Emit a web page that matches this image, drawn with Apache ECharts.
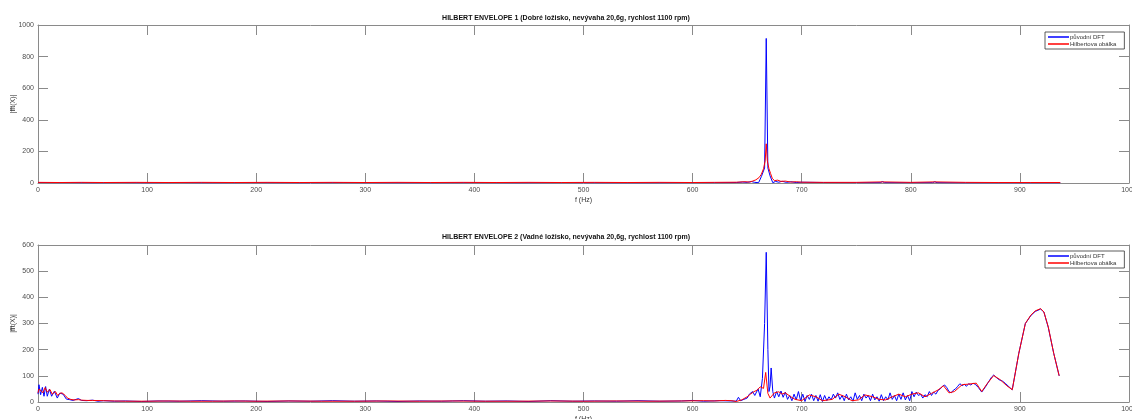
<!DOCTYPE html>
<html>
<head>
<meta charset="utf-8">
<script src="https://cdn.jsdelivr.net/npm/echarts@6/dist/echarts.min.js"></script>
<style>
html, body { margin: 0; padding: 0; background: #fff; }
#c { width: 1132px; height: 419px; }
</style>
</head>
<body>
<div id="c"></div>
<script>
// popisky
var titles = [
    'HILBERT ENVELOPE 1 (Dobré ložisko, nevývaha 20,6g, rychlost 1100 rpm)',
    'HILBERT ENVELOPE 2 (Vadné ložisko, nevývaha 20,6g, rychlost 1100 rpm)'
];
var names = ['původní DFT', 'Hilbertova obálka'];
var xName = 'f (Hz)';
var yName = '|fft(X)|';

// graf 1 - [f, |fft|]
var dft1 = [[0,3],[15,2],[30,2],[50,1],[75,2],[100,1],[130,2],[160,1],[200,2],[240,1],[280,2],[320,1],[360,1],[400,2],[440,1],[480,2],[520,1],[560,1],[600,2],[620,2],[640,3],[646,6],[650,4],[654,9],[657,4],[660.5,2],[663,40],[666,95],[667.5,915],[669,95],[671,45],[673.5,2],[676,10],[679,5],[682,11],[686,4],[690,8],[695,3],[700,5],[720,3],[750,2],[772,2],[774,9],[776,2],[800,2],[820,2],[822,8],[824,2],[850,1],[880,1],[910,1],[937,1]];
var env1 = [[0,4],[20,3],[40,4],[60,3],[90,4],[120,3],[150,4],[180,3],[210,4],[240,3],[270,4],[300,3],[330,4],[360,3],[390,4],[420,3],[450,4],[480,3],[510,4],[540,3],[570,4],[600,3],[620,4],[640,5],[648,8],[652,6],[655,12],[658,20],[661,35],[663,55],[665,90],[666.5,140],[667.5,248],[668.5,140],[670,90],[671.5,60],[673,30],[675,15],[678,18],[681,10],[685,12],[690,6],[695,8],[700,5],[720,4],[750,4],[774,7],[800,4],[822,7],[850,4],[880,3],[910,3],[937,3]];

// graf 2
var dft2 = [[0,30],[0.9,66],[2.4,28],[4,56],[5.5,22],[7,59],[8.5,22],[10.4,49],[12.5,22],[15,41],[17.7,15],[20,34],[23,30],[26,11],[29,9],[32,6],[37,13],[40,6],[44.5,5],[50,7],[55,3],[60,5],[70,3],[80,4],[95,2],[110,4],[130,3],[150,5],[170,3],[190,4],[210,2],[230,4],[250,3],[270,5],[290,3],[310,4],[330,2],[350,4],[370,3],[390,5],[410,3],[430,4],[450,2],[470,5],[490,3],[510,4],[530,3],[550,5],[570,3],[590,4],[600,6],[610,3],[625,5],[635,4],[640,3],[642,18],[644,5],[647,10],[650,15],[652,30],[655,40],[657,25],[660,50],[662,20],[664,90],[666,300],[667.5,572],[669,200],[670,40],[671,60],[672,130],[673.5,40],[675,15],[677,40],[679,20],[681,42],[683,18],[685,38],[687,10],[689,25],[691,5],[693,30],[695,8],[697,40],[699,5],[701,30],[703,2],[705,25],[707,10],[709,30],[711,5],[713,25],[715,3],[717,28],[719,2],[721,25],[723,5],[725,20],[727,8],[729,30],[731,15],[733,35],[735,10],[737,25],[739,5],[741,30],[743,8],[745,20],[747,3],[749,35],[751,10],[753,25],[755,5],[757,30],[759,15],[761,25],[763,5],[765,30],[767,8],[769,20],[771,3],[773,28],[775,5],[777,20],[779,8],[781,35],[783,10],[785,25],[787,5],[789,30],[791,10],[793,35],[795,8],[797,25],[799,5],[801,40],[803,20],[805,38],[807,25],[809,30],[811,15],[813,28],[815,20],[817,40],[819,25],[821,38],[823,30],[825,45],[827,50],[829,60],[831,65],[833,55],[835,40],[837,35],[839,45],[841,50],[843,60],[845,70],[847,62],[849,68],[851,60],[853,70],[855,65],[857,72],[859,68],[862,55],[865,38],[868,55],[871,75],[874,95],[876,103],[878,95],[881,85],[884,80],[887,70],[890,58],[893,47],[899,186],[905,300],[910,330],[914,346],[919,355],[922,344],[926,285],[931,186],[936,100]];
var env2 = [[0,35],[1,50],[2.5,45],[4.5,35],[6.5,55],[8.5,38],[11,48],[13,30],[16,40],[18,25],[20,33],[22,35],[25,25],[27,15],[30,10],[33,8],[37,9],[40,7],[45,6],[50,6],[60,5],[70,4],[80,3],[100,3],[120,4],[140,3],[160,3],[180,4],[200,3],[230,4],[260,3],[290,3],[320,4],[350,3],[380,4],[410,3],[440,3],[470,4],[500,3],[530,4],[560,3],[590,4],[610,5],[620,4],[630,6],[636,5],[640,2],[645,8],[650,20],[653,30],[656,39],[659,45],[662,58],[665,52],[667,113],[669,33],[671,15],[672,10],[675,35],[679,39],[682,30],[685,35],[690,20],[694,10],[700,5],[707,27],[713,20],[719,5],[728,10],[734,30],[740,20],[746,5],[752,8],[758,27],[765,20],[771,10],[777,8],[783,20],[789,30],[795,20],[801,30],[807,35],[813,20],[819,33],[825,46],[830,62],[835,35],[840,40],[847,66],[852,68],[856,70],[860,72],[865,40],[870,70],[876,101],[882,85],[888,62],[893,47],[899,186],[905,300],[910,332],[914,348],[919,357],[922,344],[926,287],[931,186],[936,100]];

var font = 'Liberation Sans, Arial, sans-serif';
var boxColor = '#8a8a8a';
var labelColor = '#4d4d4d';

function plain(v) { return String(v); }

function xAxis(grid, pos, main) {
    return {
        type: 'value', gridIndex: grid, position: pos,
        min: 0, max: 1000, interval: 100,
        name: main ? xName : '', nameLocation: 'middle', nameGap: 14,
        nameTextStyle: { fontSize: 7, color: '#333', fontFamily: font },
        axisLine: { show: true, onZero: false, lineStyle: { color: boxColor, width: 1 } },
        axisTick: { show: true, inside: true, length: 10, lineStyle: { color: boxColor } },
        axisLabel: { show: main, fontSize: 7, color: labelColor, margin: 4, fontFamily: font, formatter: plain },
        splitLine: { show: false }
    };
}
function yAxis(grid, pos, main, max, step) {
    return {
        type: 'value', gridIndex: grid, position: pos,
        min: 0, max: max, interval: step,
        name: main ? yName : '', nameLocation: 'middle', nameGap: 21, nameMoveOverlap: false,
        nameTextStyle: { fontSize: 7, color: '#333', fontFamily: font },
        axisLine: { show: true, onZero: false, lineStyle: { color: boxColor, width: 1 } },
        axisTick: { show: true, inside: true, length: 10, lineStyle: { color: boxColor } },
        axisLabel: { show: main, fontSize: 7, color: labelColor, margin: 4, fontFamily: font, formatter: plain },
        splitLine: { show: false }
    };
}
function legend(top) {
    return {
        data: names, orient: 'vertical', left: 1045, top: top,
        icon: 'rect', itemWidth: 21, itemHeight: 1.5, itemGap: 1,
        padding: [2, 8, 2, 3], backgroundColor: '#fff',
        borderColor: '#333', borderWidth: 0.8, borderRadius: 0,
        textStyle: { fontSize: 6, color: '#333', fontFamily: font, padding: [0, 0, 0, -4] }
    };
}
function line(name, data, color, xi) {
    return {
        name: name, type: 'line', data: data, xAxisIndex: xi, yAxisIndex: xi,
        symbol: 'none', showSymbol: false, animation: false,
        lineStyle: { width: 1, color: color }, itemStyle: { color: color }
    };
}
function title(text, top) {
    return { text: text, left: 'center', top: top, padding: 0,
        textStyle: { fontSize: 7, fontWeight: 'bold', color: '#111', fontFamily: font } };
}

var myChart = echarts.init(document.getElementById('c'));
var option = {
    backgroundColor: '#fff',
    animation: false,
    title: [title(titles[0], 15), title(titles[1], 234)],
    legend: [legend(32), legend(251)],
    grid: [
        { left: 38, top: 25, width: 1091, height: 158, outerBoundsMode: 'none', containLabel: false },
        { left: 38, top: 245, width: 1091, height: 157, outerBoundsMode: 'none', containLabel: false }
    ],
    xAxis: [xAxis(0, 'bottom', true), xAxis(0, 'top', false), xAxis(1, 'bottom', true), xAxis(1, 'top', false)],
    yAxis: [yAxis(0, 'left', true, 1000, 200), yAxis(0, 'right', false, 1000, 200), yAxis(1, 'left', true, 600, 100), yAxis(1, 'right', false, 600, 100)],
    series: [
        line(names[0], dft1, '#0000ff', 0),
        line(names[1], env1, '#ff0000', 0),
        line(names[0], dft2, '#0000ff', 2),
        line(names[1], env2, '#ff0000', 2)
    ]
};
myChart.setOption(option);
</script>
</body>
</html>
